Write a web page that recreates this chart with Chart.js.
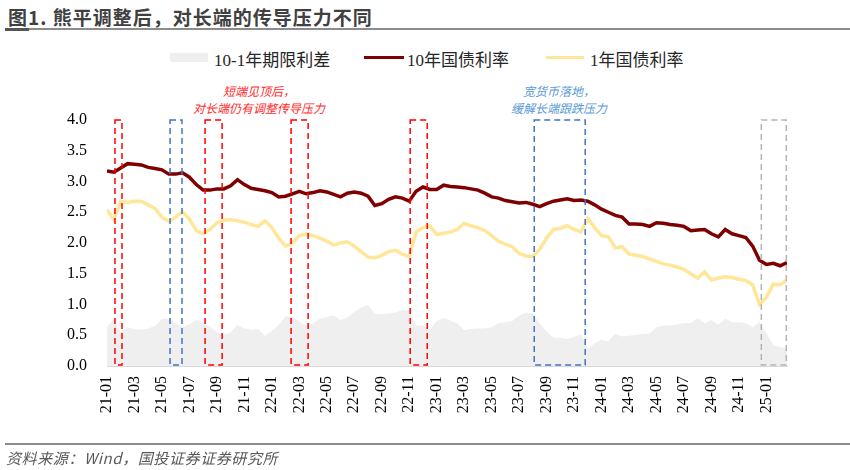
<!DOCTYPE html>
<html>
<head>
<meta charset="utf-8">
<script src="https://cdn.jsdelivr.net/npm/chart.js@4.4.1/dist/chart.umd.min.js"></script>
<style>
  body { margin: 0; background: #fff; }
  #wrap { position: relative; width: 850px; height: 470px; font-family: "Liberation Serif", "Noto Sans CJK SC", serif; }
  #grafico { position: absolute; left: 0; top: 0; }
  .titulo { position: absolute; left: 8px; top: 3px; font-family: "Noto Sans CJK SC", sans-serif; font-weight: bold; font-size: 19px; color: #404040; letter-spacing: 1px; }
  .linhaTopo { position: absolute; left: 5px; top: 28px; width: 845px; height: 2px; background: #8c8c8c; }
  .linhaTopo2 { position: absolute; left: 5px; top: 28px; width: 24px; height: 3px; background: #555; }
  .linhaBase { position: absolute; left: 5px; top: 443px; width: 845px; height: 2px; background: #8c8c8c; }
  .fonte { position: absolute; left: 6px; top: 447px; font-family: "Noto Sans CJK SC", sans-serif; font-style: italic; font-size: 15px; letter-spacing: 0.6px; color: #595959; }
  .legenda { position: absolute; top: 46px; font-size: 17px; color: #262626; white-space: nowrap; }
  .marca { position: absolute; }
  .nota { position: absolute; font-family: "Noto Sans CJK SC", sans-serif; font-style: italic; font-size: 12px; text-align: center; width: 200px; line-height: 17px; }
</style>
</head>
<body>
<div id="wrap">
  <div class="titulo">图1. 熊平调整后，对长端的传导压力不同</div>
  <div class="linhaTopo"></div>
  <div class="linhaTopo2"></div>

  <div class="marca" style="left:170px; top:53px; width:38px; height:9px; background:#efefef;"></div>
  <div class="legenda" style="left:214px;">10-1年期限利差</div>
  <div class="marca" style="left:364px; top:56px; width:40px; height:3px; background:#7f0000;"></div>
  <div class="legenda" style="left:407px;">10年国债利率</div>
  <div class="marca" style="left:546px; top:56px; width:38px; height:3px; background:#ffe699;"></div>
  <div class="legenda" style="left:590px;">1年国债利率</div>

  <div class="nota" style="left:159px; top:82px; color:#ff2a2a;">短端见顶后，<br>对长端仍有调整传导压力</div>
  <div class="nota" style="left:459px; top:82px; color:#5b9bd5;">宽货币落地，<br>缓解长端跟跌压力</div>

  <canvas id="grafico" width="850" height="470"></canvas>

  <div class="linhaBase"></div>
  <div class="fonte">资料来源：Wind，国投证券证券研究所</div>
</div>

<script>
// rótulos do eixo x (a cada 2 meses, desde 2021-01)
const tickLabels = [
    "21-01", "21-03", "21-05", "21-07", "21-09", "21-11",
    "22-01", "22-03", "22-05", "22-07", "22-09", "22-11",
    "23-01", "23-03", "23-05", "23-07", "23-09", "23-11",
    "24-01", "24-03", "24-05", "24-07", "24-09", "24-11", "25-01"
];

// uma observação a cada meio mês a partir de 2021-01
const passoMeses = 0.5;

const juros10a = [
    3.17, 3.15, 3.22, 3.29, 3.28, 3.27, 3.23, 3.21, 3.19, 3.12,
    3.12, 3.14, 3.07, 2.95, 2.86, 2.86, 2.88, 2.88, 2.93, 3.03,
    2.95, 2.89, 2.87, 2.85, 2.82, 2.75, 2.76, 2.80, 2.84, 2.80,
    2.82, 2.85, 2.83, 2.79, 2.75, 2.81, 2.83, 2.81, 2.76, 2.61,
    2.64, 2.71, 2.75, 2.73, 2.68, 2.84, 2.91, 2.87, 2.87, 2.94,
    2.92, 2.91, 2.90, 2.88, 2.86, 2.81, 2.75, 2.73, 2.69, 2.67,
    2.65, 2.66, 2.63, 2.59, 2.64, 2.68, 2.70, 2.72, 2.69, 2.70,
    2.68, 2.62, 2.55, 2.50, 2.45, 2.42, 2.31, 2.31, 2.30, 2.27,
    2.33, 2.32, 2.30, 2.29, 2.27, 2.20, 2.21, 2.22, 2.15, 2.10,
    2.22, 2.15, 2.12, 2.09, 1.95, 1.72, 1.65, 1.67, 1.63, 1.68
];

const juros1a = [
    2.54, 2.38, 2.68, 2.66, 2.68, 2.68, 2.62, 2.56, 2.42, 2.35,
    2.42, 2.51, 2.39, 2.20, 2.15, 2.22, 2.33, 2.37, 2.38, 2.36,
    2.34, 2.30, 2.27, 2.36, 2.25, 2.08, 1.95, 2.00, 2.12, 2.15,
    2.12, 2.08, 2.03, 1.97, 2.00, 2.02, 1.95, 1.86, 1.77, 1.76,
    1.80, 1.86, 1.88, 1.82, 1.78, 2.18, 2.25, 2.28, 2.14, 2.16,
    2.18, 2.22, 2.32, 2.28, 2.25, 2.20, 2.12, 2.03, 1.98, 1.94,
    1.83, 1.79, 1.78, 1.90, 2.08, 2.22, 2.24, 2.28, 2.22, 2.18,
    2.40, 2.25, 2.12, 2.10, 1.92, 1.94, 1.82, 1.80, 1.78, 1.74,
    1.70, 1.66, 1.64, 1.61, 1.57, 1.50, 1.43, 1.53, 1.40, 1.43,
    1.45, 1.44, 1.41, 1.39, 1.32, 1.00, 1.12, 1.33, 1.32, 1.40
];

const spread = [
    0.63, 0.77, 0.54, 0.63, 0.60, 0.59, 0.61, 0.65, 0.77, 0.77,
    0.70, 0.63, 0.68, 0.75, 0.71, 0.64, 0.55, 0.51, 0.55, 0.67,
    0.61, 0.59, 0.60, 0.49, 0.57, 0.67, 0.81, 0.80, 0.72, 0.65,
    0.70, 0.77, 0.80, 0.82, 0.75, 0.79, 0.88, 0.95, 0.99, 0.85,
    0.84, 0.85, 0.87, 0.91, 0.90, 0.66, 0.66, 0.59, 0.73, 0.78,
    0.74, 0.69, 0.58, 0.60, 0.61, 0.61, 0.63, 0.70, 0.71, 0.73,
    0.82, 0.87, 0.85, 0.69, 0.56, 0.46, 0.46, 0.44, 0.47, 0.52,
    0.28, 0.37, 0.43, 0.40, 0.53, 0.48, 0.49, 0.51, 0.52, 0.53,
    0.63, 0.66, 0.66, 0.68, 0.70, 0.70, 0.78, 0.69, 0.75, 0.67,
    0.77, 0.71, 0.71, 0.70, 0.63, 0.72, 0.53, 0.34, 0.31, 0.28
];

// períodos destacados (em meses desde 2021-01)
const caixasVermelhas = [[0.58, 1.09], [7.14, 8.38], [13.40, 14.64], [22.07, 23.31]];
const caixasAzuis = [[4.59, 5.46], [31.10, 34.81]];
const caixasCinzas = [[47.63, 49.45]];

function pontos(valores) {
    return valores.map((v, i) => ({ x: i * passoMeses, y: v }));
}

// desenha os retângulos tracejados usando as escalas do gráfico
const pluginCaixas = {
    id: "caixas",
    afterDatasetsDraw(chart) {
        const ctx = chart.ctx;
        const sx = chart.scales.x;
        const sy = chart.scales.y;
        const grupos = [
            [caixasVermelhas, "#ff0000"],
            [caixasAzuis, "#4472c4"],
            [caixasCinzas, "#b4b4b4"]
        ];
        ctx.save();
        ctx.lineWidth = 1.5;
        ctx.setLineDash([6, 4]);
        grupos.forEach(([caixas, cor]) => {
            ctx.strokeStyle = cor;
            caixas.forEach(([ini, fim]) => {
                const x1 = sx.getPixelForValue(ini);
                const x2 = sx.getPixelForValue(fim);
                const y1 = sy.getPixelForValue(4);
                const y2 = sy.getPixelForValue(0) - 1;
                ctx.strokeRect(x1, y1, x2 - x1, y2 - y1);
            });
        });
        ctx.restore();
    }
};

const ctx = document.getElementById("grafico").getContext("2d");

window.grafico = new Chart(ctx, {
    type: "line",
    data: {
        datasets: [
            {
                label: "10年国债利率",
                data: pontos(juros10a),
                borderColor: "#7f0000",
                borderWidth: 3.5,
                pointRadius: 0,
                tension: 0,
                order: 1
            },
            {
                label: "1年国债利率",
                data: pontos(juros1a),
                borderColor: "#ffe699",
                borderWidth: 3.5,
                pointRadius: 0,
                tension: 0,
                order: 2
            },
            {
                label: "10-1年期限利差",
                data: pontos(spread),
                borderWidth: 0,
                borderColor: "rgba(0,0,0,0)",
                backgroundColor: "#efefef",
                fill: "origin",
                pointRadius: 0,
                tension: 0,
                order: 3
            }
        ]
    },
    options: {
        responsive: false,
        animation: false,
        devicePixelRatio: 1,
        layout: { padding: { top: 120, right: 63, left: 0, bottom: 0 } },
        plugins: {
            legend: { display: false },
            tooltip: { enabled: false }
        },
        scales: {
            x: {
                type: "linear",
                min: 0,
                max: 49.5,
                grid: { display: false, drawTicks: false },
                border: { display: true, color: "#d9d9d9", width: 1 },
                afterBuildTicks: s => {
                    s.ticks = tickLabels.map((t, i) => ({ value: i * 2 }));
                },
                afterFit: s => { s.height = 104; },
                ticks: {
                    autoSkip: false,
                    minRotation: 90,
                    maxRotation: 90,
                    padding: 10,
                    color: "#000",
                    font: { family: "Liberation Serif", size: 16 },
                    callback: v => tickLabels[Math.round(v / 2)]
                }
            },
            y: {
                min: 0,
                max: 4,
                grid: { display: false, drawTicks: false },
                border: { display: false },
                afterFit: s => { s.width = 107; },
                ticks: {
                    stepSize: 0.5,
                    padding: 20,
                    color: "#000",
                    font: { family: "Liberation Serif", size: 16 },
                    callback: v => Number(v).toFixed(1)
                }
            }
        }
    },
    plugins: [pluginCaixas]
});
</script>
</body>
</html>
